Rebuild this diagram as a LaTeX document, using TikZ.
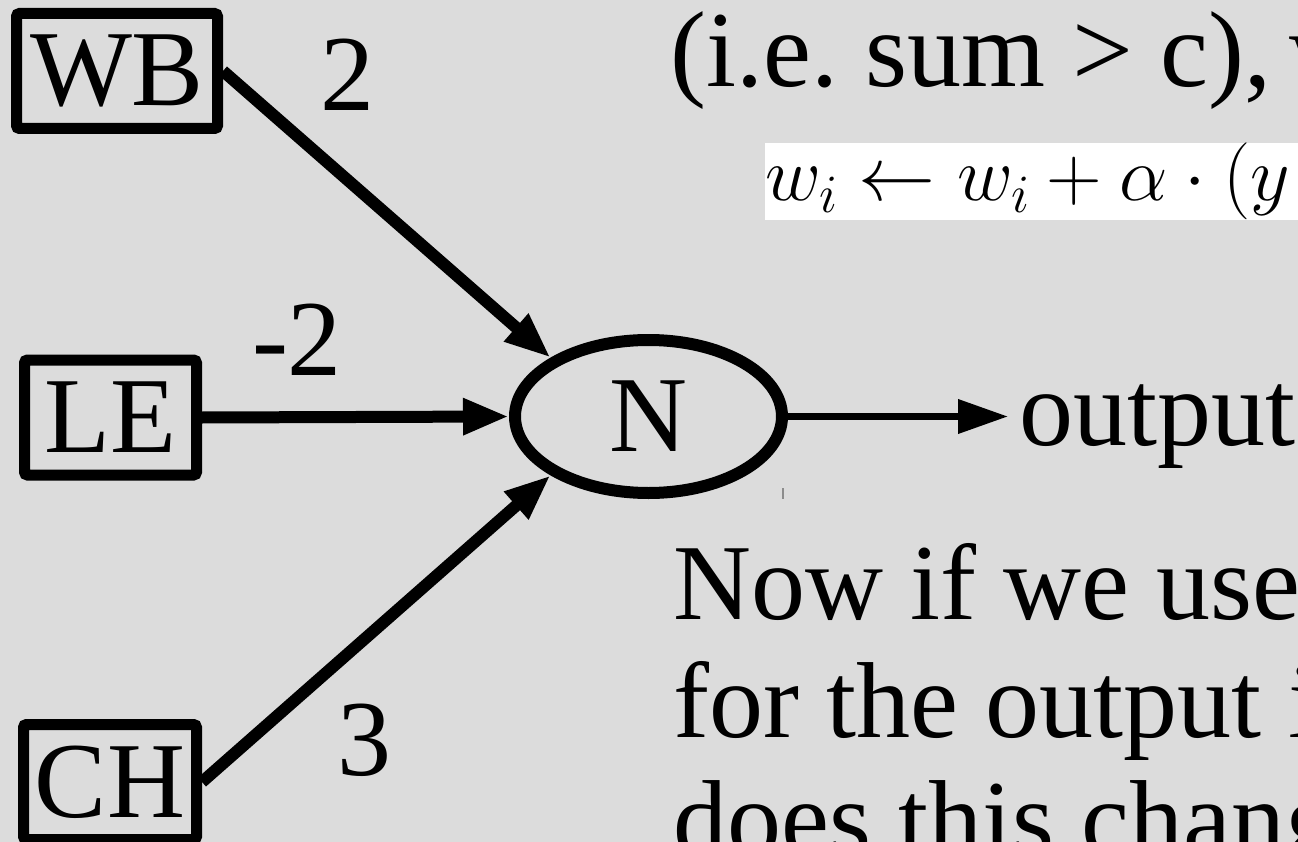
\documentclass[tikz,border=0pt]{standalone}
\usepackage{fix-cm}
\usepackage[no-math]{fontspec}
\setmainfont{Liberation Serif}
\usetikzlibrary{arrows.meta,shapes.geometric}

\definecolor{slidebg}{RGB}{220,220,220}
\newcommand{\slidefont}{\fontsize{108}{118}\selectfont\frenchspacing}
\newcommand{\formulasize}{\fontsize{77}{82}\selectfont}

\begin{document}
\begin{tikzpicture}[
  x=1pt, y=-1pt,
  font=\slidefont,
  box/.style={rectangle, draw, line width=11pt, rounded corners=3pt, minimum height=115pt, inner sep=0pt},
  neuron/.style={ellipse, draw, line width=12pt, minimum width=267pt, minimum height=153pt, inner sep=0pt},
  wlabel/.style={anchor=base, inner sep=0pt},
  txt/.style={anchor=base west, inner sep=0pt},
  arr/.style={-{Triangle[length=46pt, width=34pt]}, line width=12pt},
  thinarr/.style={-{Triangle[length=50pt, width=33pt]}, line width=7pt}
]

\useasboundingbox (0,0) rectangle (1298,842);
\clip (0,0) rectangle (1298,842);
\fill[slidebg] (0,0) rectangle (1298,842);

% inputs
\node[box, minimum width=201pt] (WB) at (117,71) {WB};
\node[box, minimum width=172pt] (LE) at (110.5,417.5) {LE\hspace{23pt}};
\node[box, minimum width=173pt] (CH) at (110,782) {CH};

% neuron and output
\node[neuron] (N) at (648.5,416.5) {N};
\node[txt, inner xsep=11pt] (out) at (1008,445) {output};

\draw[arr] (WB.east) -- (N.149);
\draw[arr] (LE.east) -- (N.west);
\draw[arr] (CH.east) -- (N.211);
\draw[thinarr] (N.east) -- (N.east -| out.west);

% weights
\node[wlabel] (w1) at (347,111) {2};
\node[wlabel] (w2) at (297,375) {-2};
\node[wlabel] (w3) at (364.5,775) {3};

% slide text
\node[txt] (cond) at (670,87) {(i.e. sum > c),\hspace{0.17em}w};
\node[txt, fill=white, font=\formulasize] (rule) at (765,201) {$w_i \leftarrow w_i + \alpha \cdot (y - o) \cdot x_i$};
\node[txt] (line1) at (673,619) {Now if we use};
\node[txt] (line2) at (673,737) {for the output i};
\node[txt] (line3) at (673,855) {does this chang};

\draw[black!45, line width=1.5pt] (783,488) -- (783,499);

\end{tikzpicture}
\end{document}
